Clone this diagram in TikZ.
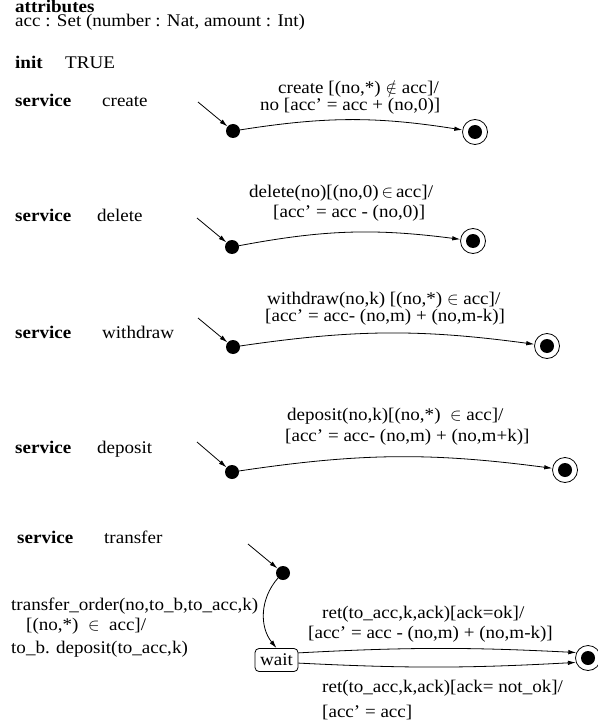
\documentclass[tikz,border=0pt]{standalone}
\usepackage{fontspec}
\setmainfont{Liberation Serif}[FakeStretch=1.07]
\usetikzlibrary{arrows.meta}
\begin{document}
\begin{tikzpicture}[x=1pt,y=-1pt,
  font=\fontsize{17.8}{20}\selectfont,
  txt/.style={anchor=base west,inner sep=0pt},
  dot/.style={circle,fill=black,draw=none,minimum size=14pt,inner sep=0pt},
  finalring/.style={circle,draw,line width=0.8pt,minimum size=25pt,inner sep=0pt},
  finaldot/.style={circle,fill=black,minimum size=14pt,inner sep=0pt},
  waitbox/.style={draw,rounded corners=4pt,line width=0.8pt,minimum height=23pt,minimum width=43pt,inner sep=0pt},
  trans/.style={line width=0.8pt,-{Latex[length=8pt,width=4.5pt]}}]
\useasboundingbox (0,0) rectangle (597,727);
% header
\node[txt] (t1) at (15,13) {\textbf{attributes}};
\node[txt] (t2) at (15,26.5) {acc : Set (number : Nat, amount : Int)};
\node[txt] (t3) at (15,69) {\textbf{init}};
\node[txt] (t4) at (65,69) {TRUE};
% create
\node[txt] (c0) at (15,107) {\textbf{service}};
\node[txt] (c1) at (102,107) {create};
\node[txt] (cl1) at (278,94) {create [(no,*) $\notin$ acc]/};
\node[txt] (cl2) at (260,111) {no [acc’ = acc + (no,0)]};
\coordinate (cs) at (198,102);
\node[dot] (ci) at (233,131) {};
\node[finalring] (cf) at (475,132) {};
\node[finaldot] (cfi) at (cf) {};
\draw[trans] (cs) -- (ci);
\draw[trans] (ci) to[bend left=9] (cf);
% delete
\node[txt] (d0) at (15,222) {\textbf{service}};
\node[txt] (d1) at (97,222) {delete};
\node[txt] (dl1) at (249,197) {delete(no)[(no,0)$\,\in\,$acc]/};
\node[txt] (dl2) at (273,218) {[acc’ = acc - (no,0)]};
\coordinate (ds) at (197,218);
\node[dot] (di) at (232,247) {};
\node[finalring] (df) at (473,241) {};
\node[finaldot] (dfi) at (df) {};
\draw[trans] (ds) -- (di);
\draw[trans] (di) to[bend left=9] (df);
% withdraw
\node[txt] (w0) at (15,338) {\textbf{service}};
\node[txt] (w1) at (102,338) {withdraw};
\node[txt] (wl1) at (267,304) {withdraw(no,k) [(no,*) $\in$ acc]/};
\node[txt] (wl2) at (265,321) {[acc’ = acc- (no,m) + (no,m-k)]};
\coordinate (ws) at (198,318);
\node[dot] (wi) at (233,347) {};
\node[finalring] (wf) at (547,346) {};
\node[finaldot] (wfi) at (wf) {};
\draw[trans] (ws) -- (wi);
\draw[trans] (wi) to[bend left=8] (wf);
% deposit
\node[txt] (p0) at (15,453) {\textbf{service}};
\node[txt] (p1) at (97,453) {deposit};
\node[txt] (pl1) at (287,420) {deposit(no,k)[(no,*)\ \ $\in$ acc]/};
\node[txt] (pl2) at (285,441) {[acc’ = acc- (no,m) + (no,m+k)]};
\coordinate (ps) at (197,442);
\node[dot] (pi) at (232,472) {};
\node[finalring] (pf) at (565,470) {};
\node[finaldot] (pfi) at (pf) {};
\draw[trans] (ps) -- (pi);
\draw[trans] (pi) to[bend left=8] (pf);
% transfer
\node[txt] (r0) at (17,543) {\textbf{service}};
\node[txt] (r1) at (104,543) {transfer};
\node[txt] (rl1) at (11,610) {transfer\_order(no,to\_b,to\_acc,k)};
\node[txt] (rl2) at (26,630) {[(no,*)\ \ $\in$\ \ acc]/};
\node[txt] (rl3) at (11,653) {to\_b. deposit(to\_acc,k)};
\coordinate (rs) at (248,544);
\node[dot] (ri) at (283,573) {};
\node[waitbox] (wait) at (276.5,660) {wait};
\node[finalring] (rf) at (588,658) {};
\node[finaldot] (rfi) at (rf) {};
\draw[trans] (rs) -- (ri);
\draw[trans] (ri) to[bend right=40] (wait.north);
\draw[trans] (wait.18) to[bend left=3] (rf.155);
\draw[trans] (wait.-8) to[bend right=3] (rf.-160);
\node[txt] (ok1) at (322,618) {ret(to\_acc,k,ack)[ack=ok]/};
\node[txt] (ok2) at (308,638) {[acc’ = acc - (no,m) + (no,m-k)]};
\node[txt] (nk1) at (322,692) {ret(to\_acc,k,ack)[ack= not\_ok]/};
\node[txt] (nk2) at (322,717) {[acc’ = acc]};
\end{tikzpicture}
\end{document}
